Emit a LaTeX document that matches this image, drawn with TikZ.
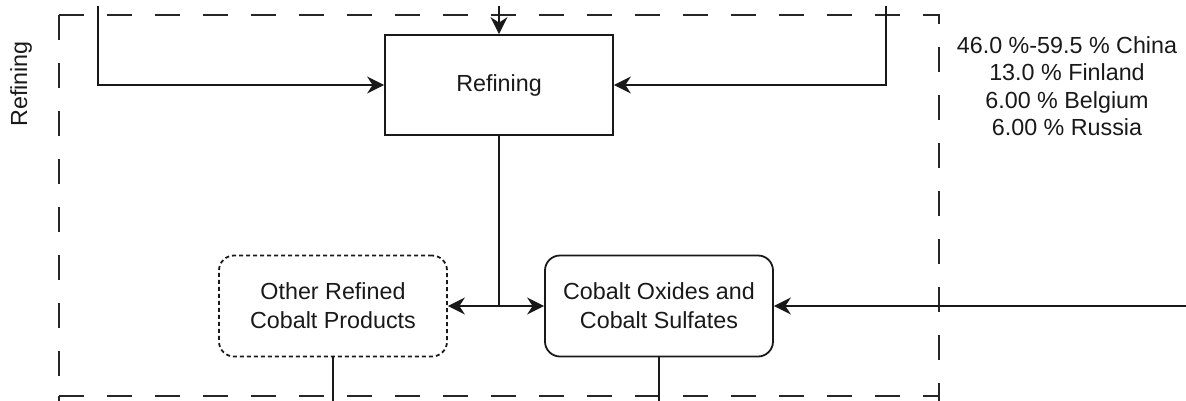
\documentclass[tikz,border=0pt]{standalone}
\usepackage{fontspec}
\setmainfont{Liberation Sans}
\usetikzlibrary{arrows.meta}

\tikzset{
  flow/.style={line width=1.8bp, draw=black!90,
    -{Stealth[length=17bp,width=17bp,inset=5.5bp]}},
  wire/.style={line width=1.8bp, draw=black!90},
  stagebox/.style={line width=1.8bp, draw=black!85, dash pattern=on 25bp off 23bp},
  procbox/.style={draw=black!90, line width=1.8bp, minimum width=228bp,
    minimum height=100bp, inner sep=0pt, align=center},
  prodbox/.style={draw=black!90, line width=1.8bp, rounded corners=15bp,
    minimum width=228bp, minimum height=101bp, inner sep=0pt, align=center},
  optbox/.style={prodbox, dash pattern=on 4bp off 3bp},
  txt/.style={font=\fontsize{23.3bp}{29bp}\selectfont, text=black!90},
}

\begin{document}
\begin{tikzpicture}[x=1bp, y=-1bp]
  \useasboundingbox (0,0) rectangle (1186,400);
  \begin{scope}
    \clip (0,0) rectangle (1186,400);

    % refining stage frame
    \coordinate (fTL) at (59,15);
    \coordinate (fTR) at (939,15);
    \coordinate (fBL) at (59,396);
    \coordinate (fBR) at (939,396);
    \draw[stagebox] (fTL) -- (fTR) -- (fBR);
    \draw[stagebox] (fTL) -- (fBL);
    % next stage frame (top edge)
    \draw[stagebox] (fBL) -- (fBR);
    \draw[stagebox] (fBL) -- ++(0,60);
    \draw[stagebox] (fBR) -- ++(0,60);

    % stage label
    \node[txt, rotate=90, inner sep=0pt] (stage) at (21,84) {Refining};

    % process and products
    \node[procbox, txt] (refining) at (499,85) {Refining};
    \node[optbox, txt] (other) at (333,306) {Other Refined\\Cobalt Products};
    \node[prodbox, txt] (oxides) at (659,306) {Cobalt Oxides and\\Cobalt Sulfates};

    % country shares
    \node[txt, align=center, inner sep=0pt,
      font=\fontsize{23.3bp}{27.5bp}\selectfont] (shares) at (1067,86)
      {46.0 \%-59.5 \% China\\13.0 \% Finland\\6.00 \% Belgium\\6.00 \% Russia};

    % incoming flows
    \coordinate (inL) at (98,6);
    \coordinate (inT) at (499,6);
    \coordinate (inR) at (886,6);
    \coordinate (inE) at (1190,306);
    \draw[flow] (inL) |- (refining.west);
    \draw[flow] (inT) -- (refining.north);
    \draw[flow] (inR) |- (refining.east);
    \draw[flow] (inE) -- (oxides.east);

    % split below refining
    \coordinate (split) at (499,306);
    \draw[wire] (refining.south) -- (split);
    \draw[flow] (split) -- (other.east);
    \draw[flow] (split) -- (oxides.west);

    % outgoing flows
    \coordinate (outO) at (333,410);
    \coordinate (outX) at (659,410);
    \draw[wire] (other.south) -- (outO);
    \draw[wire] (oxides.south) -- (outX);
  \end{scope}
\end{tikzpicture}
\end{document}
